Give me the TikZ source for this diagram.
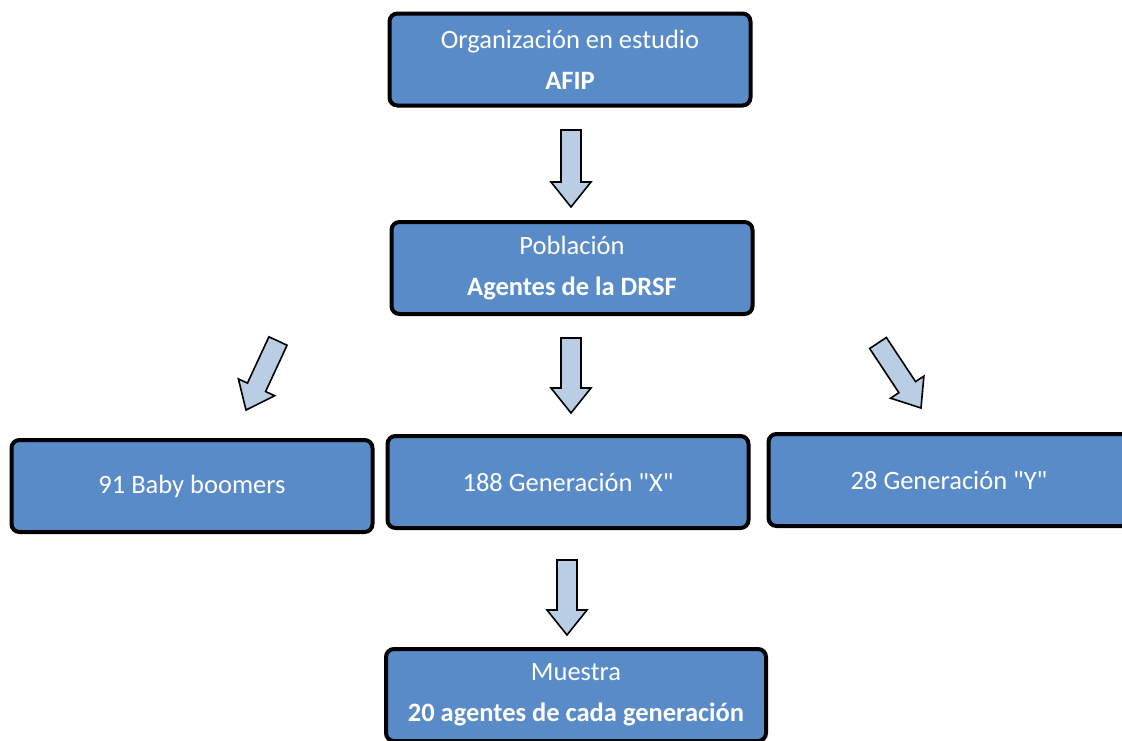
\documentclass[tikz,border=0pt]{standalone}
\usepackage{fontspec}
\setmainfont{Carlito}[Ligatures=TeXOff]
\usepackage{tikz}
\usetikzlibrary{calc, positioning}

\definecolor{cajaazul}{RGB}{90,139,201}
\definecolor{flechaazul}{RGB}{185,205,229}

\tikzset{
	caja/.style = {draw = black, line width = 4pt, rounded corners = 8pt, fill = cajaazul, text = white, minimum width = 361pt, minimum height = 92pt, align = center, font = \fontsize{26.5}{41}\selectfont},
	flecha/.style = {draw = black, line width = 1.6pt, fill = flechaazul, line join = miter}
}

% flecha de bloque de #1 a #2
\newcommand\flecha[2]{%
	\coordinate (cabeza) at ($ (#2)!25pt!(#1) $);
	\draw [flecha] ($ (#1)!10pt!90:(#2) $) -- ($ (cabeza)!10pt!90:(#2) $) -- ($ (cabeza)!20pt!90:(#2) $) -- (#2) -- ($ (cabeza)!20pt!-90:(#2) $) -- ($ (cabeza)!10pt!-90:(#2) $) -- ($ (#1)!10pt!-90:(#2) $) -- cycle;
}

\begin{document}
\begin{tikzpicture}[x = 1pt, y = -1pt]
		\useasboundingbox (0,0) rectangle (1122,740);
		\clip (0,0) rectangle (1122,740);
		
		\node [caja] (organizacion) at (570,59.5) {Organización en estudio\\\textbf{AFIP}};
		\node [caja] (poblacion) at (572,268) {Población\\\textbf{Agentes de la DRSF}};
		\node [caja] (boomers) at (192,486) {91 Baby boomers};
		\node [caja] (genx) at (568,482) {188 Generación "X"};
		\node [caja] (geny) at (949,480) {28 Generación "Y"};
		\node [caja, minimum width = 380pt] (muestra) at (576,695) {Muestra\\\textbf{20 agentes de cada generación}};
		
		\coordinate (a1 top) at (571,130);
		\coordinate (a1 tip) at (571,207);
		\coordinate (a2 top) at (278,341);
		\coordinate (a2 tip) at (246,410);
		\coordinate (a3 top) at (571,338);
		\coordinate (a3 tip) at (571,413);
		\coordinate (a4 top) at (878,343);
		\coordinate (a4 tip) at (921,408);
		\coordinate (a5 top) at (567,560);
		\coordinate (a5 tip) at (567,635);
		
		\flecha{a1 top}{a1 tip}
		\flecha{a2 top}{a2 tip}
		\flecha{a3 top}{a3 tip}
		\flecha{a4 top}{a4 tip}
		\flecha{a5 top}{a5 tip}
	\end{tikzpicture}
\end{document}
